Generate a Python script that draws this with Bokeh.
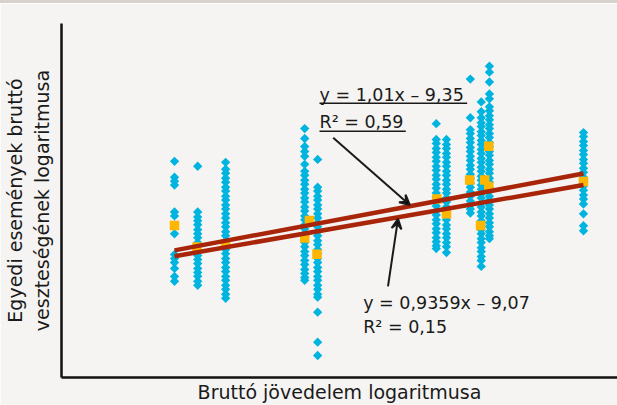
from bokeh.plotting import figure
from bokeh.models import Range1d, FixedTicker, Arrow, VeeHead, Div
from bokeh.layouts import column
from bokeh.core.properties import value
from bokeh.embed import file_html
from bokeh.resources import INLINE
import numpy as np

# log gross income of each firm (x positions of the columns)
income_levels = [10.00, 10.34, 10.75, 11.91, 12.10, 13.84, 13.99, 14.34, 14.50, 14.62, 16.00]

# log gross loss of individual events, per firm
losses_1 = [7.78, 6.52, 6.21, 5.90, 3.78, 3.47, 2.76, 2.06, 0.42, 0.10, -0.21, -0.68, -1.31, -1.70]
losses_2 = [7.39, 3.78, 3.39, 3.08, 2.77, 2.38, 2.06, 1.75, 1.36, 1.05, 0.73, 0.34, 0.03, -0.29,
            -0.68, -0.99, -1.30, -1.70, -2.01]
losses_3 = [7.70, 7.15, 6.84, 6.44, 6.13, 5.74, 5.43, 5.03, 4.72, 4.33, 4.02, 3.63, 3.31, 2.92,
            2.61, 2.22, 1.90, 1.51, 1.20, 0.81, 0.49, 0.10, -0.21, -0.60, -0.92, -1.31, -1.62,
            -2.01, -2.33, -2.72, -3.03]
losses_4 = [10.36, 9.58, 8.95, 8.56, 8.17, 7.54, 6.99, 6.68, 6.29, 5.97, 5.58, 5.27, 4.88, 4.57,
            4.17, 3.86, 3.47, 3.16, 2.76, 2.45, 2.06, 1.75, 1.36, 1.04, 0.65, 0.34, -0.05, -0.37,
            -0.76, -1.07, -1.39, -1.62]
losses_5 = [7.93, 5.74, 5.43, 5.03, 4.72, 4.33, 4.02, 3.63, 3.31, 2.92, 2.61, 2.22, 1.90, 1.51,
            1.20, 0.81, 0.49, 0.10, -0.21, -0.60, -0.92, -1.31, -1.62, -2.01, -2.33, -2.72, -2.95,
            -4.13, -6.50, -7.55]
losses_6 = [10.75, 9.50, 9.19, 8.79, 8.48, 8.09, 7.78, 7.38, 7.07, 6.68, 6.37, 5.97, 5.66, 5.27,
            4.96, 4.57, 4.25, 3.86, 3.55, 3.16, 2.84, 2.45, 2.14, 1.75, 1.43, 1.12, 0.89]
losses_7 = [9.50, 9.11, 8.79, 8.40, 8.09, 7.70, 7.38, 6.99, 6.68, 6.29, 5.97, 5.58, 5.27, 4.88,
            4.57, 4.17, 3.86, 3.47, 3.16, 2.76, 2.45, 2.06, 1.75, 1.36, 1.04, 0.57]
losses_8 = [14.27, 11.22, 10.28, 9.97, 9.58, 9.26, 8.87, 8.56, 8.17, 7.85, 7.46, 7.15, 6.76, 6.44,
            6.05, 5.74, 5.35, 5.03, 4.64, 4.33, 4.02, 3.70]
losses_9 = [12.47, 11.69, 11.22, 10.83, 10.52, 10.12, 9.81, 9.42, 9.11, 8.72, 8.40, 8.01, 7.70,
            7.31, 6.99, 6.60, 6.29, 5.90, 5.58, 5.19, 4.88, 4.49, 4.17, 3.78, 3.47, 3.08, 2.76,
            2.37, 2.06, 1.67, 1.36, 0.96, 0.65, 0.26, -0.05, -0.52]
losses_10 = [15.29, 14.82, 14.04, 13.10, 12.71, 12.08, 11.77, 11.38, 11.06, 10.67, 10.36, 9.97,
             9.65, 9.26, 8.95, 8.56, 8.25, 7.85, 7.54, 7.15, 6.84, 6.44, 6.13, 5.74, 5.43, 5.03,
             4.72, 4.33, 4.02, 3.63, 3.31, 2.92, 2.61, 2.22, 1.90, 1.67]
losses_11 = [10.05, 9.73, 9.34, 9.03, 8.64, 8.32, 7.93, 7.62, 7.23, 6.91, 6.52, 6.21, 5.82, 5.50,
             5.11, 4.80, 4.41, 3.63, 2.69, 2.29]

# firm-level averages (orange squares)
mean_x = [10.00, 10.33, 10.75, 11.98, 11.91, 12.09, 13.85, 13.99, 14.33, 14.55, 14.61, 14.61, 14.49, 16.00]
mean_y = [2.71, 1.02, 1.28, 3.10, 1.72, 0.44, 4.80, 3.63, 6.31, 6.31, 5.79, 8.97, 2.71, 6.19]

# regression lines: (slope, intercept)
fit_events = (1.01, -9.35)
fit_means = (0.9359, -9.07)
label_events = ["y = 1,01x – 9,35", "R²  = 0,59"]
label_means = ["y = 0,9359x – 9,07", "R²  = 0,15"]

x_title = "Bruttó jövedelem logaritmusa"
y_title = "Egyedi események bruttó\nveszteségének logaritmusa"

all_losses = [losses_1, losses_2, losses_3, losses_4, losses_5, losses_6,
              losses_7, losses_8, losses_9, losses_10, losses_11]
px, py = [], []
for xv, ys in zip(income_levels, all_losses):
    px += [xv] * len(ys)
    py += ys

FONT = "DejaVu Sans"
BG = "#f5f4f2"
INK = "#1a1a1a"

p = figure(width=617, height=402, output_backend="svg", toolbar_location=None,
           x_range=Range1d(8.342, 16.499), y_range=Range1d(-9.29, 18.66),
           min_border_left=61, min_border_top=20, min_border_bottom=25, min_border_right=0)
p.background_fill_color = BG
p.border_fill_color = BG
p.outline_line_color = None
p.grid.visible = False

for ax in (p.xaxis[0], p.yaxis[0]):
    ax.ticker = FixedTicker(ticks=[])
    ax.major_tick_line_color = None
    ax.minor_tick_line_color = None
    ax.major_tick_out = 0
    ax.major_tick_in = 0
    ax.major_label_text_font_size = "0px"
    ax.axis_line_width = 2.5
    ax.axis_line_color = "#111111"
    ax.axis_label_text_font = FONT
    ax.axis_label_text_font_size = "19px"
    ax.axis_label_text_font_style = "normal"
    ax.axis_label_text_color = INK
p.xaxis.axis_label = x_title
p.yaxis.axis_label = y_title
p.xaxis.axis_label_standoff = 3
p.yaxis.axis_label_standoff = 9

p.scatter(px, py, marker="square", angle=np.pi / 4, size=6.6,
          fill_color="#00B4E0", line_color=None)
p.scatter(mean_x, mean_y, marker="square", size=9.5,
          fill_color="#FFB600", line_color=None)

x_fit = [min(income_levels), max(income_levels)]
for a, b in (fit_events, fit_means):
    p.line(x_fit, [a * xv + b for xv in x_fit], line_color="#A8250A", line_width=4.5)

# annotations (text centred vertically on the given y)
p.text(x=[12.127, 12.127], y=[13.02, 10.87], text=label_events,
       text_font=value(FONT), text_font_size="17.5px", text_color=INK,
       text_baseline="middle", text_align="left")
p.segment(x0=[12.127, 12.127], y0=[12.37, 10.15], x1=[14.294, 13.393], y1=[12.37, 10.15],
          line_color=INK, line_width=1.5)
p.text(x=[12.768, 12.768], y=[-3.42, -5.34], text=label_means,
       text_font=value(FONT), text_font_size="17.5px", text_color=INK,
       text_baseline="middle", text_align="left")

p.add_layout(Arrow(end=VeeHead(size=10, line_width=2, line_color=INK),
                   x_start=12.328, y_start=9.63, x_end=13.452, y_end=4.33,
                   line_width=2, line_color=INK))
p.add_layout(Arrow(end=VeeHead(size=10, line_width=2, line_color=INK),
                   x_start=13.132, y_start=-2.09, x_end=13.279, y_end=3.24,
                   line_width=2, line_color=INK))

band = Div(text="", width=617, height=3, margin=0,
           styles={"background-color": "#d7d2cc"})
layout = column(band, p, spacing=0, margin=0)

open("out.html", "w").write(file_html(layout, INLINE))
